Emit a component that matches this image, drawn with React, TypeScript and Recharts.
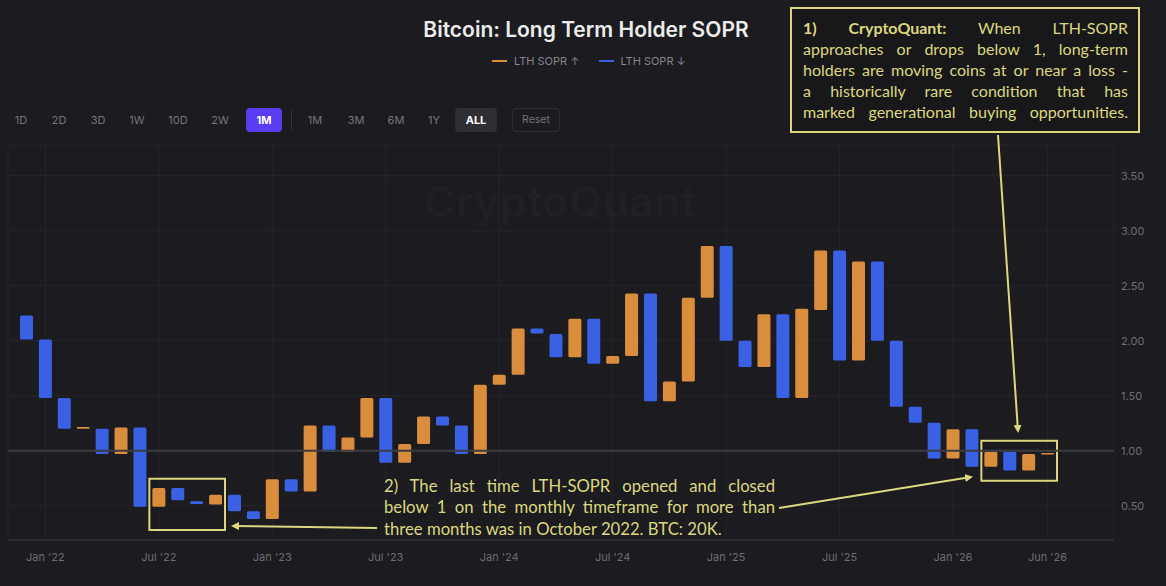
import React from "react";
import {
  ComposedChart,
  Bar,
  Cell,
  XAxis,
  YAxis,
  CartesianGrid,
  ReferenceLine,
  ReferenceArea,
} from "recharts";

const months = [
  "Dec '21",
  "Jan '22", "Feb '22", "Mar '22", "Apr '22", "May '22", "Jun '22", "Jul '22", "Aug '22", "Sep '22", "Oct '22", "Nov '22", "Dec '22",
  "Jan '23", "Feb '23", "Mar '23", "Apr '23", "May '23", "Jun '23", "Jul '23", "Aug '23", "Sep '23", "Oct '23", "Nov '23", "Dec '23",
  "Jan '24", "Feb '24", "Mar '24", "Apr '24", "May '24", "Jun '24", "Jul '24", "Aug '24", "Sep '24", "Oct '24", "Nov '24", "Dec '24",
  "Jan '25", "Feb '25", "Mar '25", "Apr '25", "May '25", "Jun '25", "Jul '25", "Aug '25", "Sep '25", "Oct '25", "Nov '25", "Dec '25",
  "Jan '26", "Feb '26", "Mar '26", "Apr '26", "May '26", "Jun '26",
];

const openValues = [
  2.23,
  2.01, 1.48, 1.2, 1.2, 0.97, 1.21, 0.49, 0.66, 0.54, 0.51, 0.6, 0.45,
  0.38, 0.74, 0.63, 1.23, 0.99, 1.12, 1.48, 0.89, 1.06, 1.31, 1.23, 0.97,
  1.6, 1.69, 2.11, 2.06, 1.85, 2.2, 1.79, 1.86, 2.43, 1.45, 1.63, 2.39,
  2.86, 2.0, 1.76, 2.24, 1.48, 2.28, 2.82, 1.82, 2.72, 2.0, 1.4, 1.255,
  0.93, 1.195, 0.855, 0.99, 0.82, 0.965,
];

const closeValues = [
  2.01,
  1.48, 1.2, 1.215, 0.97, 1.21, 0.49, 0.66, 0.55, 0.515, 0.6, 0.45, 0.38,
  0.74, 0.63, 1.23, 0.99, 1.12, 1.48, 0.89, 1.06, 1.31, 1.23, 0.97, 1.6,
  1.69, 2.11, 2.065, 1.85, 2.2, 1.79, 1.86, 2.43, 1.45, 1.63, 2.39, 2.86,
  2.0, 1.76, 2.24, 1.48, 2.29, 2.82, 1.82, 2.72, 2.0, 1.4, 1.255, 0.93,
  1.195, 0.855, 0.99, 0.82, 0.97, 0.98,
];

const xTickLabels = [
  "Jan '22", "Jul '22", "Jan '23", "Jul '23", "Jan '24", "Jul '24", "Jan '25", "Jul '25", "Jan '26", "Jun '26",
];
const yTickValues = [0.5, 1.0, 1.5, 2.0, 2.5, 3.0, 3.5];

const seriesNames = ["LTH SOPR \u2191", "LTH SOPR \u2193"];
const intervalButtons = ["1D", "2D", "3D", "1W", "10D", "2W", "1M"];
const rangeButtons = ["1M", "3M", "6M", "1Y", "ALL"];

const UP = "#d98d3d";
const DOWN = "#3a60e4";
const NOTE = "#dcd77e";
const BG = "#1b1b20";

const data = months.map((m, i) => ({
  month: m,
  open: openValues[i],
  close: closeValues[i],
  range: [Math.min(openValues[i], closeValues[i]), Math.max(openValues[i], closeValues[i])],
}));

const noteLines1 = [
  "approaches or drops below 1, long-term",
  "holders are moving coins at or near a loss -",
  "a historically rare condition that has",
  "marked generational buying opportunities.",
];
const noteLines2 = [
  "2) The last time LTH-SOPR opened and closed",
  "below 1 on the monthly timeframe for more than",
  "three months was in October 2022. BTC: 20K.",
];

const ui = "Inter, 'Noto Sans', sans-serif";
const noteFont = "Lato, 'Open Sans', sans-serif";

const intervalX = [21, 59, 98, 137, 178, 220, 264];
const rangeX = [315, 356, 396, 434, 476];

export default function App() {
  return (
    <div
      style={{
        position: "fixed",
        left: 0,
        top: 0,
        width: 1166,
        height: 586,
        background: BG,
        overflow: "hidden",
        fontFamily: ui,
      }}
    >
      {/* watermark */}
      <div
        style={{
          position: "absolute",
          left: 424,
          top: 176,
          fontSize: 42,
          fontWeight: 600,
          color: "#202026",
          fontFamily: ui,
          letterSpacing: 1,
        }}
      >
        CryptoQuant
      </div>

      <div style={{ position: "absolute", left: 0, top: 0 }}>
        <ComposedChart
          width={1166}
          height={586}
          data={data}
          margin={{ top: 145, right: 2, bottom: 16, left: 8 }}
        >
          <CartesianGrid stroke="#25252b" strokeWidth={1} />
          <XAxis
            dataKey="month"
            type="category"
            ticks={xTickLabels}
            interval={0}
            height={30}
            padding={{ left: 9, right: 57 }}
            axisLine={{ stroke: "#2a2a30", strokeWidth: 2 }}
            tickLine={false}
            tickMargin={7}
            tick={{ fill: "#6d6d75", fontSize: 11, fontFamily: ui }}
          />
          <YAxis
            orientation="right"
            type="number"
            domain={[0.188, 3.779]}
            ticks={yTickValues}
            allowDataOverflow
            width={50}
            axisLine={false}
            tickLine={false}
            tickMargin={1}
            tickFormatter={(v: number) => v.toFixed(2)}
            tick={{ fill: "#6d6d75", fontSize: 11, fontFamily: ui }}
          />
          <ReferenceLine y={1} stroke="#3b3b41" strokeWidth={2} />
          <Bar dataKey="range" barSize={13} isAnimationActive={false} radius={1.5}>
            {data.map((d, i) => (
              <Cell key={i} fill={d.close >= d.open ? UP : DOWN} />
            ))}
          </Bar>
          <ReferenceArea
            x1="Jul '22"
            x2="Oct '22"
            y1={0.28}
            y2={0.745}
            fill="none"
            fillOpacity={0}
            stroke={NOTE}
            strokeWidth={2}
            ifOverflow="visible"
          />
          <ReferenceArea
            x1="Mar '26"
            x2="Jun '26"
            y1={0.727}
            y2={1.091}
            fill="none"
            fillOpacity={0}
            stroke={NOTE}
            strokeWidth={2}
            ifOverflow="visible"
          />
        </ComposedChart>
      </div>

      {/* Title */}
      <div
        style={{
          position: "absolute",
          left: 0,
          width: 1172,
          top: 17,
          textAlign: "center",
          fontSize: 21,
          fontWeight: 600,
          color: "#ececec",
          fontFamily: ui,
        }}
      >
        Bitcoin: Long Term Holder SOPR
      </div>

      {/* Legend */}
      <div
        style={{
          position: "absolute",
          left: 492,
          top: 54,
          display: "flex",
          alignItems: "center",
          fontSize: 11,
          color: "#85858c",
          fontFamily: ui,
        }}
      >
        <span style={{ display: "inline-block", width: 15, height: 2, background: UP, marginRight: 7 }} />
        <span style={{ marginRight: 20 }}>{seriesNames[0]}</span>
        <span style={{ display: "inline-block", width: 15, height: 2, background: DOWN, marginRight: 6 }} />
        <span>{seriesNames[1]}</span>
      </div>

      {/* Buttons */}
      {intervalButtons.map((b, i) => {
        const active = i === intervalButtons.length - 1;
        return (
          <div
            key={"i" + i}
            style={{
              position: "absolute",
              left: intervalX[i] - (active ? 18 : 16),
              top: 108,
              width: active ? 36 : 32,
              height: 24,
              lineHeight: "24px",
              textAlign: "center",
              fontSize: 11,
              fontWeight: active ? 700 : 400,
              color: active ? "#ffffff" : "#76767e",
              background: active ? "#5a3df0" : "transparent",
              borderRadius: 4,
            }}
          >
            {b}
          </div>
        );
      })}
      <div style={{ position: "absolute", left: 291, top: 110, width: 1, height: 20, background: "#34343a" }} />
      {rangeButtons.map((b, i) => {
        const active = b === "ALL";
        return (
          <div
            key={"r" + i}
            style={{
              position: "absolute",
              left: rangeX[i] - (active ? 21 : 16),
              top: 108,
              width: active ? 42 : 32,
              height: 24,
              lineHeight: "24px",
              textAlign: "center",
              fontSize: 11,
              fontWeight: active ? 700 : 400,
              color: active ? "#ffffff" : "#76767e",
              background: active ? "#2e2e35" : "transparent",
              borderRadius: 4,
            }}
          >
            {b}
          </div>
        );
      })}
      <div
        style={{
          position: "absolute",
          left: 512,
          top: 108,
          width: 46,
          height: 22,
          lineHeight: "22px",
          textAlign: "center",
          fontSize: 10.5,
          color: "#76767e",
          border: "1px solid #2e2e35",
          borderRadius: 4,
        }}
      >
        Reset
      </div>

      {/* Note 1 */}
      <div
        style={{
          position: "absolute",
          left: 790,
          top: 7,
          width: 350,
          height: 126,
          border: `2px solid ${NOTE}`,
          background: "#18181b",
          boxSizing: "border-box",
        }}
      />
      <div
        style={{
          position: "absolute",
          left: 803,
          top: 17,
          width: 325,
          fontFamily: noteFont,
          fontSize: 16,
          lineHeight: "21px",
          color: NOTE,
        }}
      >
        <div style={{ textAlign: "justify", textAlignLast: "justify", whiteSpace: "nowrap" }}>
          <b>1)</b> <b>CryptoQuant:</b> When LTH-SOPR
        </div>
        {noteLines1.map((l, i) => (
          <div key={i} style={{ textAlign: "justify", textAlignLast: "justify", whiteSpace: "nowrap" }}>
            {l}
          </div>
        ))}
      </div>

      {/* Note 2 */}
      <div
        style={{
          position: "absolute",
          left: 384,
          top: 476,
          width: 391,
          fontFamily: noteFont,
          fontSize: 16.7,
          lineHeight: "21.3px",
          color: NOTE,
        }}
      >
        {noteLines2.map((l, i) => (
          <div
            key={i}
            style={{
              textAlign: "justify",
              textAlignLast: i < noteLines2.length - 1 ? "justify" : "left",
              whiteSpace: "nowrap",
            }}
          >
            {l}
          </div>
        ))}
      </div>

      {/* Arrows */}
      <svg
        width={1166}
        height={586}
        style={{ position: "absolute", left: 0, top: 0, pointerEvents: "none" }}
      >
        <defs>
          <marker id="ah" markerWidth="8" markerHeight="8" refX="6" refY="4" orient="auto" markerUnits="userSpaceOnUse">
            <path d="M0,0 L8,4 L0,8 Z" fill={NOTE} />
          </marker>
        </defs>
        <line x1={377} y1={528} x2={233} y2={526} stroke={NOTE} strokeWidth={2} markerEnd="url(#ah)" />
        <line x1={779} y1={508} x2={971} y2={477} stroke={NOTE} strokeWidth={2} markerEnd="url(#ah)" />
        <line x1={998} y1={135} x2={1018} y2={431} stroke={NOTE} strokeWidth={2} markerEnd="url(#ah)" />
      </svg>
    </div>
  );
}
